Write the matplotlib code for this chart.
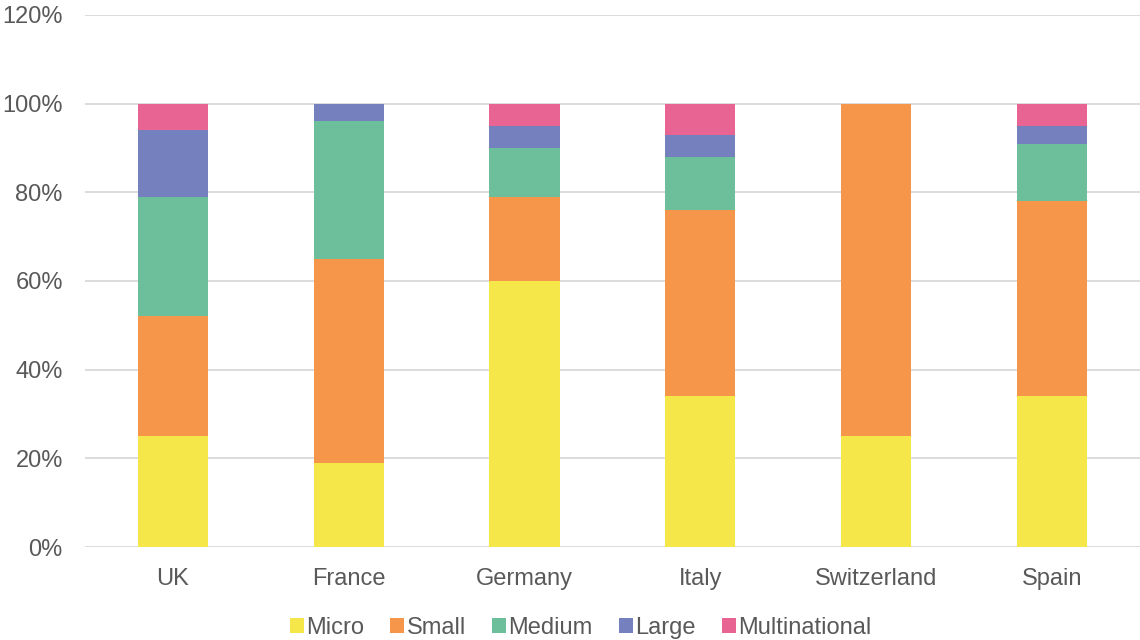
import matplotlib
matplotlib.use("Agg")
import matplotlib.pyplot as plt
import numpy as np

countries = ["UK", "France", "Germany", "Italy", "Switzerland", "Spain"]
sizes = ["Micro", "Small", "Medium", "Large", "Multinational"]
micro = [25, 19, 60, 34, 25, 34]
small = [27, 46, 19, 42, 75, 44]
medium = [27, 31, 11, 12, 0, 13]
large = [15, 4, 5, 5, 0, 4]
multinational = [6, 0, 5, 7, 0, 5]
colors = ["#F5E64A", "#F5964A", "#6CBF9A", "#7580BE", "#E86492"]

plt.rcParams["font.family"] = ["Liberation Sans", "DejaVu Sans"]

fig = plt.figure(figsize=(11.4, 6.4), dpi=100)
ax = fig.add_axes([0.0746, 0.1453, 0.925, 0.8313])

x = np.arange(len(countries))
bottom = np.zeros(len(countries))
for name, vals, c in zip(sizes, [micro, small, medium, large, multinational], colors):
    vals = np.array(vals, dtype=float)
    ax.bar(x, vals, 0.4, bottom=bottom, color=c, label=name, zorder=3)
    bottom += vals

ax.set_xlim(-0.5, 5.5)
ax.set_ylim(0, 120)
ax.set_yticks(range(0, 121, 20))
ax.set_yticklabels([f"{v}%" for v in range(0, 121, 20)])
ax.set_xticks(x)
ax.set_xticklabels(countries)
ax.grid(axis="y", color="#D9D9D9", linewidth=1.3, zorder=0)
for s in ax.spines.values():
    s.set_visible(False)
ax.tick_params(axis="both", length=0, labelsize=17, labelcolor="#595959")
ax.tick_params(axis="y", pad=16)
ax.tick_params(axis="x", pad=15)

ax.legend(loc="lower center", bbox_to_anchor=(0.47, -0.19), ncol=5, frameon=False,
          fontsize=17, labelcolor="#595959", handlelength=0.6, handleheight=0.6,
          handletextpad=0.1, columnspacing=1.1, borderaxespad=0)

fig.savefig("out.png", dpi=100)
